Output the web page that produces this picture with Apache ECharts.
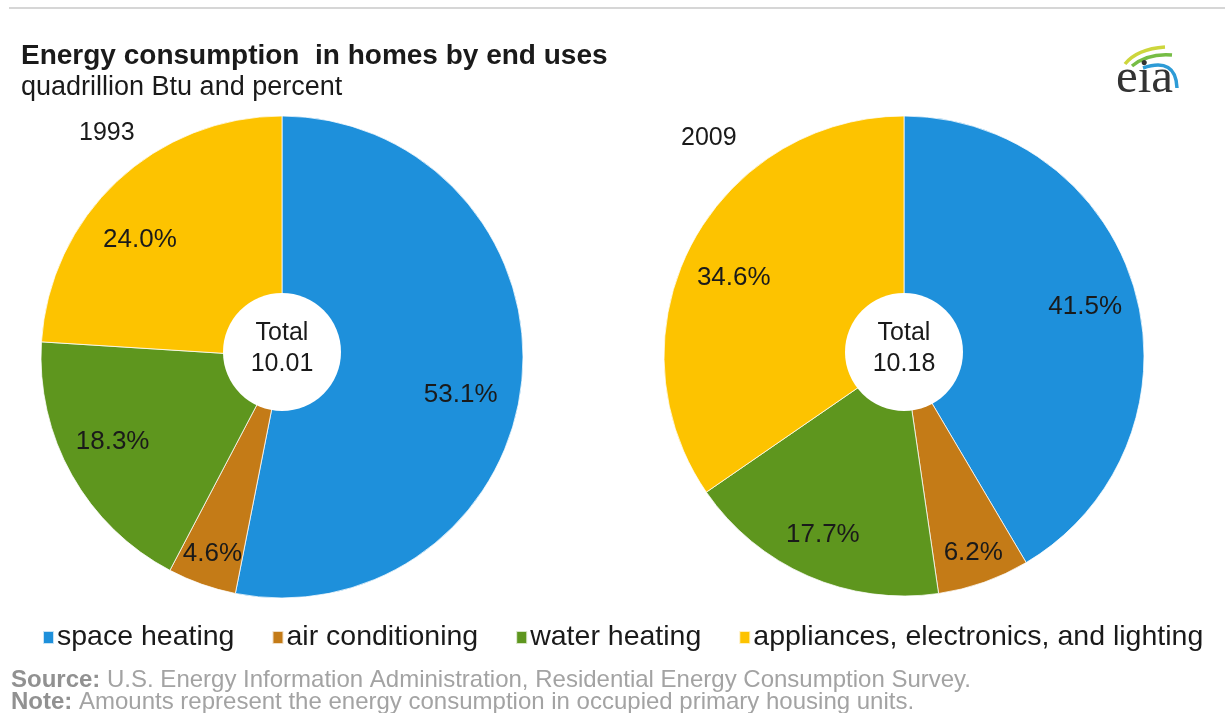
<!DOCTYPE html>
<html>
<head>
<meta charset="utf-8">
<script src="https://cdn.jsdelivr.net/npm/echarts@6/dist/echarts.min.js"></script>
<style>
  html, body { margin: 0; padding: 0; background: #ffffff; }
  #chart { width: 1225px; height: 713px; }
</style>
</head>
<body>
<div id="chart"></div>
<script>
// End-use categories (legend order, also slice order clockwise from 12 o'clock)
const categories = ['space heating', 'air conditioning', 'water heating', 'appliances, electronics, and lighting'];
// Share of residential energy consumption, percent
const share1993 = [53.1, 4.6, 18.3, 24.0];
const share2009 = [41.5, 6.2, 17.7, 34.6];
// Totals, quadrillion Btu
const totals = [10.01, 10.18];
const years = ['1993', '2009'];

const colors = ['#1E90DB', '#C47B17', '#5E961E', '#FDC300'];
const FONT = '"Liberation Sans", Arial, sans-serif';
const SMALL_SLICE = 1; // air conditioning label sits closer to the rim

// small label nudges (px) by slice index, for readability inside wide slices
const nudge1993 = { 0: [-9, 19], 2: [-5, -8], 3: [-13, 20] };
const nudge2009 = { 2: [-6, 7], 3: [-4, 9] };

function sliceData(values) {
  return categories.map((name, i) => ({ name: name, value: values[i], itemStyle: { color: colors[i] } }));
}

function labelData(values, onlySmall) {
  return categories.map((name, i) => ({
    name: name,
    value: values[i],
    label: { show: onlySmall ? i === SMALL_SLICE : i !== SMALL_SLICE }
  }));
}

function pieSet(values, total, center, holeCenter, R, nudge) {
  const labelStyle = {
    position: 'inside',
    formatter: p => p.value.toFixed(1) + '%',
    color: '#1a1a1a',
    fontFamily: FONT,
    fontSize: 26
  };
  const ring = (mid) => [mid - 6, mid + 6];
  const layout = p => {
    const d = nudge[p.dataIndex];
    return d ? { dx: d[0], dy: d[1] } : {};
  };
  return [
    {
      type: 'pie', center: center, radius: [0, R], startAngle: 90, clockwise: true,
      data: sliceData(values), label: { show: false }, labelLine: { show: false },
      itemStyle: { borderColor: 'rgba(255,255,255,0.75)', borderWidth: 1 },
      silent: true, animation: false
    },
    {
      type: 'pie', center: center, radius: ring(R * 0.77), startAngle: 90,
      data: labelData(values, false), itemStyle: { color: 'rgba(0,0,0,0)' },
      label: labelStyle, labelLine: { show: false }, labelLayout: layout,
      silent: true, animation: false, avoidLabelOverlap: false
    },
    {
      type: 'pie', center: center, radius: ring(R * 0.855), startAngle: 90,
      data: labelData(values, true), itemStyle: { color: 'rgba(0,0,0,0)' },
      label: labelStyle, labelLine: { show: false },
      silent: true, animation: false, avoidLabelOverlap: false
    },
    {
      type: 'pie', center: holeCenter, radius: [0, 59],
      data: [{ name: 'Total', value: total }],
      itemStyle: { color: '#ffffff' },
      label: {
        show: true, position: 'center',
        formatter: p => 'Total\n' + p.value.toFixed(2),
        color: '#1a1a1a', fontFamily: FONT, fontSize: 25, lineHeight: 31
      },
      labelLayout: { dy: -3 },
      labelLine: { show: false }, silent: true, animation: false
    }
  ];
}

const chart = echarts.init(document.getElementById('chart'), null, { renderer: 'canvas' });

const option = {
  backgroundColor: '#ffffff',
  animation: false,
  title: [
    {
      text: 'Energy consumption  in homes by end uses',
      subtext: 'quadrillion Btu and percent',
      left: 21, top: 42, itemGap: 4, padding: 0,
      textStyle: { fontFamily: FONT, fontWeight: 'bold', fontSize: 28, color: '#1a1a1a' },
      subtextStyle: { fontFamily: FONT, fontSize: 27, color: '#1a1a1a' }
    },
    {
      text: years[0], left: 79, top: 121, padding: 0,
      textStyle: { fontFamily: FONT, fontWeight: 'normal', fontSize: 25, color: '#1a1a1a' }
    },
    {
      text: years[1], left: 681, top: 126, padding: 0,
      textStyle: { fontFamily: FONT, fontWeight: 'normal', fontSize: 25, color: '#1a1a1a' }
    },
    {
      text: '{b|Source:} U.S. Energy Information Administration, Residential Energy Consumption Survey.\n{b|Note:} Amounts represent the energy consumption in occupied primary housing units.',
      left: 11, top: 669, padding: 0,
      textStyle: {
        fontFamily: FONT, fontWeight: 'normal', fontSize: 24, lineHeight: 22, color: '#a3a3a3',
        rich: { b: { fontFamily: FONT, fontWeight: 'bold', fontSize: 24, lineHeight: 22, color: '#919191' } }
      }
    }
  ],
  legend: {
    left: 42, top: 623, padding: 0, itemGap: 37, itemWidth: 11, itemHeight: 13, icon: 'rect',
    selectedMode: false,
    data: categories,
    textStyle: { fontFamily: FONT, fontSize: 28.5, color: '#1a1a1a', padding: [0, 0, 0, -2] }
  },
  graphic: [
    { type: 'line', shape: { x1: 9, y1: 8, x2: 1225, y2: 8 }, style: { stroke: '#d6d6d6', lineWidth: 2 } },
    // agency mark
    { type: 'bezierCurve', shape: { x1: 1125, y1: 64, cpx1: 1137, cpy1: 49, x2: 1165, y2: 47 }, style: { stroke: '#cdd63c', lineWidth: 3.5, fill: null } },
    { type: 'bezierCurve', shape: { x1: 1132, y1: 66, cpx1: 1148, cpy1: 53, x2: 1172, y2: 55 }, style: { stroke: '#76bd45', lineWidth: 3.5, fill: null } },
    { type: 'bezierCurve', shape: { x1: 1143, y1: 68, cpx1: 1176, cpy1: 57, x2: 1177, y2: 88 }, style: { stroke: '#2d9bd6', lineWidth: 3.5, fill: null } },
    { type: 'text', left: 1116, top: 55, style: { text: 'eia', fontFamily: '"Liberation Serif", "DejaVu Serif", serif', fontSize: 49, fill: '#333333' } }
  ],
  series: [].concat(
    pieSet(share1993, totals[0], [282, 357], [282, 352], 241, nudge1993),
    pieSet(share2009, totals[1], [904, 356], [904, 352], 240, nudge2009)
  )
};

chart.setOption(option);
</script>
</body>
</html>
